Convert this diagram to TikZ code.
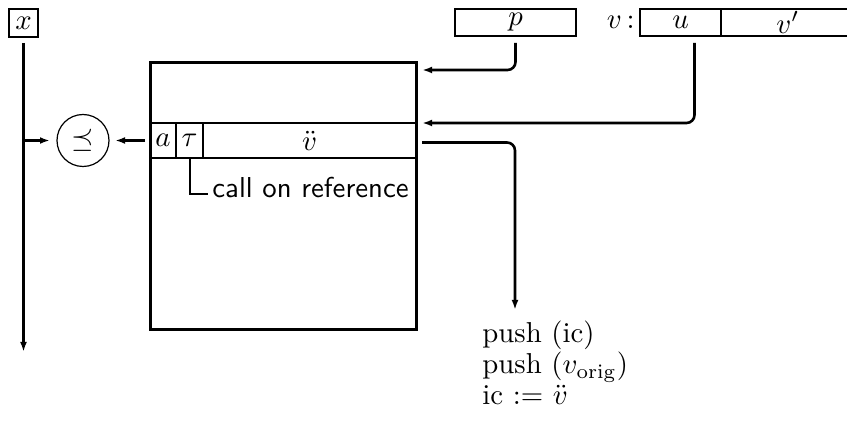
\documentclass[tikz,border=0pt]{standalone}
\usepackage{graphicx}
\usetikzlibrary{arrows.meta}
% ten-point design size, enlarged as a whole
\newcommand\enlarged[1]{\scalebox{1.44}{#1}}
\begin{document}
\begin{tikzpicture}[x=0.5pt,y=-0.5pt,
  every node/.style={font=\fontsize{10}{12}\selectfont},
  field/.style={draw,line width=1.2pt,inner sep=0pt,outer sep=0pt,minimum height=13.5pt},
  cell/.style={draw,line width=1pt,inner sep=0pt,outer sep=0pt,minimum height=17.5pt},
  conn/.style={line width=1.3pt},
  arr/.style={conn,-{Latex[length=5pt,width=3.4pt]}},
  roundturn/.style={rounded corners=4pt},
  txt/.style={anchor=base west,inner sep=0pt}]
\useasboundingbox (0,0) rectangle (847,427);
\clip (0,0) rectangle (847,427);

% top fields
\node[field,minimum width=14.5pt,minimum height=14pt] (xbox) at (23.5,23) {\enlarged{$x$}};
\node[field,minimum width=60.5pt] (pbox) at (515.5,22.5) {\enlarged{$p$}};
\node[field,minimum width=40.5pt] (ubox) at (680.5,22.5) {\enlarged{$u$}};
\node[field,minimum width=67pt,anchor=west] (vpbox) at (ubox.east) {\enlarged{$v'$}};
\node[anchor=east,inner sep=2.5pt] (vlabel) at (ubox.west) {\enlarged{$v$\,:}};

% record row inside the frame
\node[cell,minimum width=13pt,anchor=west] (acell) at (150,140.5) {\enlarged{$a$}};
\node[cell,minimum width=13.5pt,anchor=west] (tcell) at (acell.east) {\enlarged{$\tau$}};
\node[cell,minimum width=106.5pt,anchor=west] (vcell) at (tcell.east) {\enlarged{$\ddot v$}};

% frame
\node[draw,line width=1.5pt,minimum width=133pt,minimum height=133.5pt,outer sep=0pt] (frame) at (283,196.5) {};

% comparison
\node[draw,circle,line width=0.6pt,minimum size=26pt,inner sep=0pt,outer sep=0pt] (prec) at (83,140.5) {\enlarged{$\preceq$}};

% labels
\node[txt,font=\fontsize{10}{12}\selectfont\sffamily] (callref) at (212,198) {\enlarged{call on reference}};
\node[txt] (push1) at (482,343) {\enlarged{push (ic)}};
\node[txt] (push2) at (482,374) {\enlarged{push ($v_{\mathrm{orig}}$)}};
\node[txt] (assign) at (482,405) {\enlarged{ic $:=$ $\ddot v$}};

% connector end points
\coordinate (xend) at (23.5,352);
\coordinate (xtap) at (23.5,140.5);
\coordinate (pin) at (422,70);
\coordinate (uin) at (422,123);
\coordinate (outend) at (515,310);

% connectors
\draw[arr] ([yshift=-3pt]xbox.south) -- (xend);
\draw[arr,shorten >=3.5pt] (xtap) -- (prec.west);
\draw[arr,shorten >=3pt] ([xshift=-2.5pt]acell.west) -- (prec.east);
\draw[arr,roundturn] ([yshift=-3.5pt]pbox.south) |- (pin);
\draw[arr,roundturn] ([xshift=7pt,yshift=-3.5pt]ubox.south) |- (uin);
\draw[arr,roundturn] ([xshift=3pt,yshift=-1pt]vcell.east) -| (outend);
\draw[line width=1pt] (tcell.south) |- ([xshift=-2pt,yshift=2pt]callref.base west);
\end{tikzpicture}
\end{document}
